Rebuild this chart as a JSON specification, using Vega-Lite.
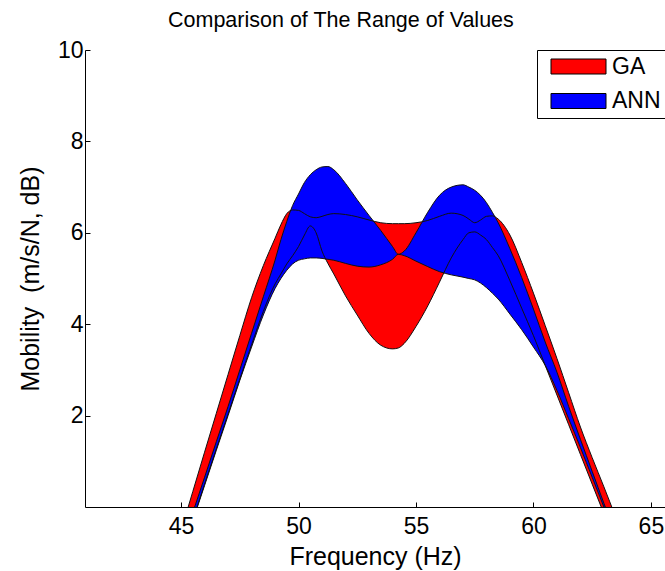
{
  "$schema": "https://vega.github.io/schema/vega-lite/v6.json",
  "autosize": {"type": "none"},
  "padding": {"left": 85, "top": 50, "right": 0, "bottom": 64},
  "width": 580,
  "height": 457,
  "background": "white",
  "title": {
    "text": "Comparison of The Range of Values",
    "anchor": "start",
    "frame": "group",
    "dx": 83,
    "fontSize": 21.5,
    "fontWeight": "normal",
    "font": "Liberation Sans",
    "color": "black",
    "offset": 8
  },
  "config": {
    "view": {"stroke": null},
    "font": "Liberation Sans",
    "axis": {
      "domainColor": "black",
      "tickColor": "black",
      "labelColor": "black",
      "titleColor": "black",
      "grid": false,
      "tickSize": -5,
      "labelFontSize": 23,
      "titleFontSize": 25,
      "titleFontWeight": "normal",
      "labelFont": "Liberation Sans",
      "titleFont": "Liberation Sans"
    }
  },
  "datasets": {
    "bands": [
      {"freq": 45, "series": "GA", "hi": -0.52, "lo": -1.05},
      {"freq": 45.5, "series": "GA", "hi": 0.34, "lo": -0.28},
      {"freq": 46, "series": "GA", "hi": 1.2, "lo": 0.5},
      {"freq": 46.5, "series": "GA", "hi": 2.05, "lo": 1.27},
      {"freq": 47, "series": "GA", "hi": 2.9, "lo": 2.03},
      {"freq": 47.5, "series": "GA", "hi": 3.75, "lo": 2.8},
      {"freq": 48, "series": "GA", "hi": 4.58, "lo": 3.55},
      {"freq": 48.5, "series": "GA", "hi": 5.28, "lo": 4.28},
      {"freq": 49, "series": "GA", "hi": 5.88, "lo": 4.88},
      {"freq": 49.25, "series": "GA", "hi": 6.18, "lo": 5.1},
      {"freq": 49.5, "series": "GA", "hi": 6.42, "lo": 5.32},
      {"freq": 49.75, "series": "GA", "hi": 6.5, "lo": 5.5},
      {"freq": 50, "series": "GA", "hi": 6.49, "lo": 5.7},
      {"freq": 50.25, "series": "GA", "hi": 6.42, "lo": 5.95},
      {"freq": 50.5, "series": "GA", "hi": 6.35, "lo": 6.15},
      {"freq": 50.75, "series": "GA", "hi": 6.33, "lo": 6.0},
      {"freq": 51, "series": "GA", "hi": 6.36, "lo": 5.6},
      {"freq": 51.25, "series": "GA", "hi": 6.4, "lo": 5.33},
      {"freq": 51.5, "series": "GA", "hi": 6.42, "lo": 5.1},
      {"freq": 52, "series": "GA", "hi": 6.4, "lo": 4.62},
      {"freq": 52.5, "series": "GA", "hi": 6.35, "lo": 4.2},
      {"freq": 53, "series": "GA", "hi": 6.28, "lo": 3.8},
      {"freq": 53.5, "series": "GA", "hi": 6.22, "lo": 3.54},
      {"freq": 54, "series": "GA", "hi": 6.2, "lo": 3.46},
      {"freq": 54.25, "series": "GA", "hi": 6.2, "lo": 3.48},
      {"freq": 54.5, "series": "GA", "hi": 6.2, "lo": 3.58},
      {"freq": 55, "series": "GA", "hi": 6.22, "lo": 3.95},
      {"freq": 55.5, "series": "GA", "hi": 6.27, "lo": 4.4},
      {"freq": 56, "series": "GA", "hi": 6.36, "lo": 4.92},
      {"freq": 56.5, "series": "GA", "hi": 6.43, "lo": 5.45},
      {"freq": 57, "series": "GA", "hi": 6.38, "lo": 5.85},
      {"freq": 57.25, "series": "GA", "hi": 6.3, "lo": 6.0},
      {"freq": 57.5, "series": "GA", "hi": 6.22, "lo": 6.02},
      {"freq": 57.75, "series": "GA", "hi": 6.28, "lo": 5.95},
      {"freq": 58, "series": "GA", "hi": 6.36, "lo": 5.85},
      {"freq": 58.25, "series": "GA", "hi": 6.37, "lo": 5.68},
      {"freq": 58.5, "series": "GA", "hi": 6.3, "lo": 5.5},
      {"freq": 59, "series": "GA", "hi": 5.95, "lo": 4.95},
      {"freq": 59.5, "series": "GA", "hi": 5.35, "lo": 4.35},
      {"freq": 60, "series": "GA", "hi": 4.68, "lo": 3.75},
      {"freq": 60.5, "series": "GA", "hi": 3.97, "lo": 3.1},
      {"freq": 61, "series": "GA", "hi": 3.25, "lo": 2.45},
      {"freq": 61.5, "series": "GA", "hi": 2.5, "lo": 1.8},
      {"freq": 62, "series": "GA", "hi": 1.75, "lo": 1.15},
      {"freq": 62.5, "series": "GA", "hi": 1.08, "lo": 0.5},
      {"freq": 63, "series": "GA", "hi": 0.44, "lo": -0.15},
      {"freq": 63.5, "series": "GA", "hi": -0.22, "lo": -0.8},
      {"freq": 64, "series": "GA", "hi": -0.9, "lo": -1.45},

      {"freq": 45, "series": "ANN", "hi": -0.9, "lo": -1.07},
      {"freq": 45.5, "series": "ANN", "hi": -0.12, "lo": -0.3},
      {"freq": 46, "series": "ANN", "hi": 0.65, "lo": 0.47},
      {"freq": 46.5, "series": "ANN", "hi": 1.43, "lo": 1.24},
      {"freq": 47, "series": "ANN", "hi": 2.2, "lo": 2.0},
      {"freq": 47.5, "series": "ANN", "hi": 3.0, "lo": 2.77},
      {"freq": 48, "series": "ANN", "hi": 3.8, "lo": 3.5},
      {"freq": 48.5, "series": "ANN", "hi": 4.6, "lo": 4.2},
      {"freq": 49, "series": "ANN", "hi": 5.4, "lo": 4.78},
      {"freq": 49.25, "series": "ANN", "hi": 5.85, "lo": 5.0},
      {"freq": 49.5, "series": "ANN", "hi": 6.25, "lo": 5.18},
      {"freq": 49.75, "series": "ANN", "hi": 6.6, "lo": 5.32},
      {"freq": 50, "series": "ANN", "hi": 6.85, "lo": 5.4},
      {"freq": 50.25, "series": "ANN", "hi": 7.1, "lo": 5.43},
      {"freq": 50.5, "series": "ANN", "hi": 7.27, "lo": 5.45},
      {"freq": 50.75, "series": "ANN", "hi": 7.38, "lo": 5.45},
      {"freq": 51, "series": "ANN", "hi": 7.44, "lo": 5.44},
      {"freq": 51.25, "series": "ANN", "hi": 7.45, "lo": 5.42},
      {"freq": 51.5, "series": "ANN", "hi": 7.38, "lo": 5.4},
      {"freq": 52, "series": "ANN", "hi": 7.08, "lo": 5.33},
      {"freq": 52.5, "series": "ANN", "hi": 6.72, "lo": 5.27},
      {"freq": 53, "series": "ANN", "hi": 6.38, "lo": 5.25},
      {"freq": 53.5, "series": "ANN", "hi": 6.05, "lo": 5.3},
      {"freq": 54, "series": "ANN", "hi": 5.7, "lo": 5.42},
      {"freq": 54.25, "series": "ANN", "hi": 5.53, "lo": 5.53},
      {"freq": 54.5, "series": "ANN", "hi": 5.6, "lo": 5.5},
      {"freq": 55, "series": "ANN", "hi": 6.0, "lo": 5.38},
      {"freq": 55.5, "series": "ANN", "hi": 6.45, "lo": 5.26},
      {"freq": 56, "series": "ANN", "hi": 6.82, "lo": 5.15},
      {"freq": 56.5, "series": "ANN", "hi": 7.0, "lo": 5.08},
      {"freq": 57, "series": "ANN", "hi": 7.05, "lo": 5.03},
      {"freq": 57.25, "series": "ANN", "hi": 7.0, "lo": 5.0},
      {"freq": 57.5, "series": "ANN", "hi": 6.93, "lo": 4.97},
      {"freq": 57.75, "series": "ANN", "hi": 6.82, "lo": 4.9},
      {"freq": 58, "series": "ANN", "hi": 6.66, "lo": 4.8},
      {"freq": 58.25, "series": "ANN", "hi": 6.45, "lo": 4.68},
      {"freq": 58.5, "series": "ANN", "hi": 6.22, "lo": 4.55},
      {"freq": 59, "series": "ANN", "hi": 5.65, "lo": 4.22},
      {"freq": 59.5, "series": "ANN", "hi": 5.02, "lo": 3.88},
      {"freq": 60, "series": "ANN", "hi": 4.33, "lo": 3.5},
      {"freq": 60.5, "series": "ANN", "hi": 3.61, "lo": 3.1},
      {"freq": 61, "series": "ANN", "hi": 2.95, "lo": 2.55},
      {"freq": 61.5, "series": "ANN", "hi": 2.2, "lo": 1.93},
      {"freq": 62, "series": "ANN", "hi": 1.48, "lo": 1.3},
      {"freq": 62.5, "series": "ANN", "hi": 0.78, "lo": 0.65},
      {"freq": 63, "series": "ANN", "hi": 0.08, "lo": 0.0},
      {"freq": 63.5, "series": "ANN", "hi": -0.6, "lo": -0.65},
      {"freq": 64, "series": "ANN", "hi": -1.25, "lo": -1.3}
    ]
  },
  "data": {"name": "bands"},
  "encoding": {
    "x": {
      "field": "freq",
      "type": "quantitative",
      "scale": {"domain": [40.91, 65.6], "nice": false, "zero": false},
      "axis": {
        "title": "Frequency (Hz)",
        "values": [45, 50, 55, 60, 65],
        "labelPadding": 13,
        "titlePadding": 6
      }
    }
  },
  "layer": [
    {
      "transform": [{"filter": "datum.series === 'GA'"}],
      "mark": {"type": "area", "interpolate": "monotone", "clip": true, "opacity": 1},
      "encoding": {
        "y": {
          "field": "hi",
          "type": "quantitative",
          "scale": {"domain": [0, 10], "nice": false},
          "axis": {
            "title": "Mobility\u00a0 (m/s/N, dB)",
            "values": [2, 4, 6, 8, 10],
            "labelPadding": 7,
            "titlePadding": 14
          }
        },
        "y2": {"field": "lo"},
        "color": {
          "field": "series",
          "type": "nominal",
          "scale": {"domain": ["GA", "ANN"], "range": ["#ff0000", "#0000ff"]},
          "legend": {
            "title": null,
            "orient": "none",
            "legendX": 452,
            "legendY": 0,
            "symbolType": "M-3.667,-1H3.667V1H-3.667Z",
            "symbolSize": 225,
            "symbolOffset": 25,
            "symbolStrokeColor": "black",
            "symbolStrokeWidth": 1,
            "symbolOpacity": 1,
            "labelFontSize": 23,
            "labelFont": "Liberation Sans",
            "labelColor": "black",
            "labelOffset": 22,
            "fillColor": "white",
            "strokeColor": "black",
            "padding": 5,
            "rowPadding": 10.5
          }
        }
      }
    },
    {
      "transform": [{"filter": "datum.series === 'ANN'"}],
      "mark": {"type": "area", "interpolate": "monotone", "clip": true, "opacity": 1},
      "encoding": {
        "y": {"field": "hi", "type": "quantitative"},
        "y2": {"field": "lo"},
        "color": {"field": "series", "type": "nominal"}
      }
    },
    {
      "mark": {"type": "line", "interpolate": "monotone", "clip": true, "color": "#111111", "strokeWidth": 1},
      "encoding": {
        "y": {"field": "hi", "type": "quantitative"},
        "detail": {"field": "series"}
      }
    },
    {
      "mark": {"type": "line", "interpolate": "monotone", "clip": true, "color": "#111111", "strokeWidth": 1},
      "encoding": {
        "y": {"field": "lo", "type": "quantitative"},
        "detail": {"field": "series"}
      }
    }
  ]
}
